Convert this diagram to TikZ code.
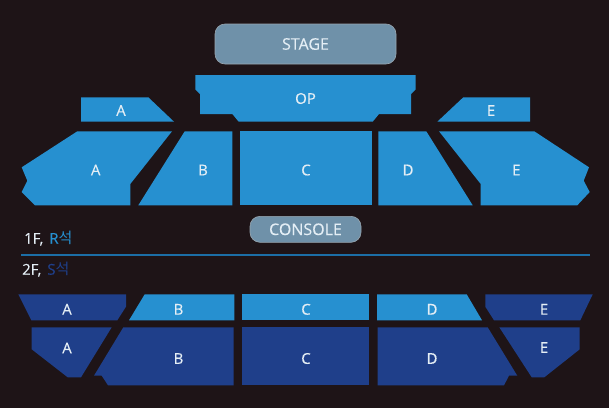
\documentclass[tikz,border=0pt]{standalone}
\usepackage{fontspec}
\usepackage{xcolor}
\setmainfont[FakeBold=0.3]{Open Sans}
\newfontfamily\krfont{Noto Sans CJK KR}
\usetikzlibrary{positioning}
\definecolor{hall}{HTML}{1E1417}
\definecolor{seatr}{HTML}{2690D0}
\definecolor{seats}{HTML}{1F3F8A}
\definecolor{stagefill}{HTML}{6F91A9}
\definecolor{stageedge}{HTML}{98A6B0}
\definecolor{sepline}{HTML}{1C6EA6}
\definecolor{labelink}{HTML}{E4EEF5}
\tikzset{
  rseat/.style={fill=seatr},
  sseat/.style={fill=seats},
  seatlabel/.style={text=labelink,font=\fontsize{15}{17}\selectfont,inner sep=0pt},
  stagebox/.style={draw=stageedge,fill=stagefill,line width=0.6pt,rounded corners=10pt,
                   text=labelink,inner sep=0pt,font=\fontsize{16}{18}\selectfont},
  floorlabel/.style={anchor=west,inner sep=0pt,font=\fontsize{15}{17}\selectfont}
}
\begin{document}
\begin{tikzpicture}[x=1pt,y=-1pt]
  \useasboundingbox (0,0) rectangle (609,408);
  \fill[hall] (0,0) rectangle (609,408);

  % divider between the floors
  \fill[sepline] (21,254.4) rectangle (590,255.7);

  % stage and console
  \node[stagebox,minimum width=181pt,minimum height=40pt] (stage) at (305.5,44) {\raisebox{-1pt}{STAGE}};
  \node[stagebox,minimum width=111pt,minimum height=26pt] (console) at (305.5,229.3) {\raisebox{-0.7pt}{CONSOLE}};

  % 1F, R seats
  \fill[rseat] (195.3,75) -- (415.7,75) -- (415.7,89.3) -- (411,94) -- (411,114) -- (379,114)
    -- (372.7,121.7) -- (238.7,121.7) -- (232.3,114) -- (200,114) -- (200,94) -- (195.3,89.3) -- cycle;
  \fill[rseat] (81,97.3) -- (148.3,97.3) -- (174,121.7) -- (81,121.7) -- cycle;
  \fill[rseat] (463.3,97.3) -- (530,97.3) -- (530,121.7) -- (437.3,121.7) -- cycle;
  \fill[rseat] (77.3,131.3) -- (172,131.3) -- (130.3,184) -- (130.3,205.3) -- (35,205.3)
    -- (21.7,192) -- (27.3,180.7) -- (21.7,167.3) -- cycle;
  \fill[rseat] (184.7,131.3) -- (232.3,131.3) -- (232.3,205.3) -- (138.3,205.3) -- cycle;
  \fill[rseat] (239.7,131.3) rectangle (371.7,205.3);
  \fill[rseat] (378.3,131.3) -- (426.3,131.3) -- (472.7,205.3) -- (378.3,205.3) -- cycle;
  \fill[rseat] (439,131.3) -- (534.3,131.3) -- (589,167.3) -- (583.7,180.7) -- (589.7,192)
    -- (577.3,205.3) -- (480.7,205.3) -- (480.7,184) -- cycle;

  \node[seatlabel] (op) at (305.5,98.5) {OP};
  \node[seatlabel] (ra1) at (121,110.5) {A};
  \node[seatlabel] (re1) at (491,110.5) {E};
  \node[seatlabel] (ra) at (95.7,170) {A};
  \node[seatlabel] (rb) at (203,170) {B};
  \node[seatlabel] (rc) at (306,170) {C};
  \node[seatlabel] (rd) at (408,170) {D};
  \node[seatlabel] (re) at (516.3,170) {E};

  % floor labels
  \node[floorlabel] (first) at (24,238.5) {\textcolor{labelink}{1F,}\hspace{6pt}\textcolor{seatr}{R\krfont 석}};
  \node[floorlabel] (second) at (22,269.5) {\textcolor{labelink}{2F,}\hspace{6pt}\textcolor{seats}{S\krfont 석}};

  % 2F front row
  \fill[sseat] (18.3,294.3) -- (126,294.3) -- (126,306.7) -- (117.3,320.3) -- (31.3,320.3) -- cycle;
  \fill[rseat] (144.7,294.3) -- (234.3,294.3) -- (234.3,320.3) -- (129,320.3) -- cycle;
  \fill[rseat] (242.3,294.3) rectangle (368.7,320.3);
  \fill[rseat] (377,294.3) -- (466.7,294.3) -- (482,320.3) -- (377,320.3) -- cycle;
  \fill[sseat] (485.3,294.3) -- (592.7,294.3) -- (580.3,320.3) -- (494,320.3) -- (485.3,306.7) -- cycle;

  % 2F back row
  \fill[sseat] (31.7,327.3) -- (111.7,327.3) -- (81,377.3) -- (67.7,377.3) -- (31.7,349.3) -- cycle;
  \fill[sseat] (123.3,327.3) -- (233.7,327.3) -- (233.7,385.3) -- (108,385.3) -- (101.7,375.7) -- (94,375.7) -- cycle;
  \fill[sseat] (242.3,327.3) rectangle (368.7,385.3);
  \fill[sseat] (377.7,327.3) -- (487.7,327.3) -- (517.3,375.7) -- (509,375.7) -- (504,385.3) -- (377.7,385.3) -- cycle;
  \fill[sseat] (499.3,327.3) -- (579.7,327.3) -- (579.7,349.3) -- (544.3,377.3) -- (531.7,377.3) -- cycle;

  \node[seatlabel] (sa1) at (67,309.3) {A};
  \node[seatlabel] (sb1) at (178.5,309.3) {B};
  \node[seatlabel] (sc1) at (306,309.3) {C};
  \node[seatlabel] (sd1) at (432,309.3) {D};
  \node[seatlabel] (se1) at (544,309.3) {E};
  \node[seatlabel] (sa) at (67,348) {A};
  \node[seatlabel] (sb) at (178.5,358.5) {B};
  \node[seatlabel] (sc) at (306,358.5) {C};
  \node[seatlabel] (sd) at (432,358.5) {D};
  \node[seatlabel] (se) at (544,347.5) {E};
\end{tikzpicture}
\end{document}
